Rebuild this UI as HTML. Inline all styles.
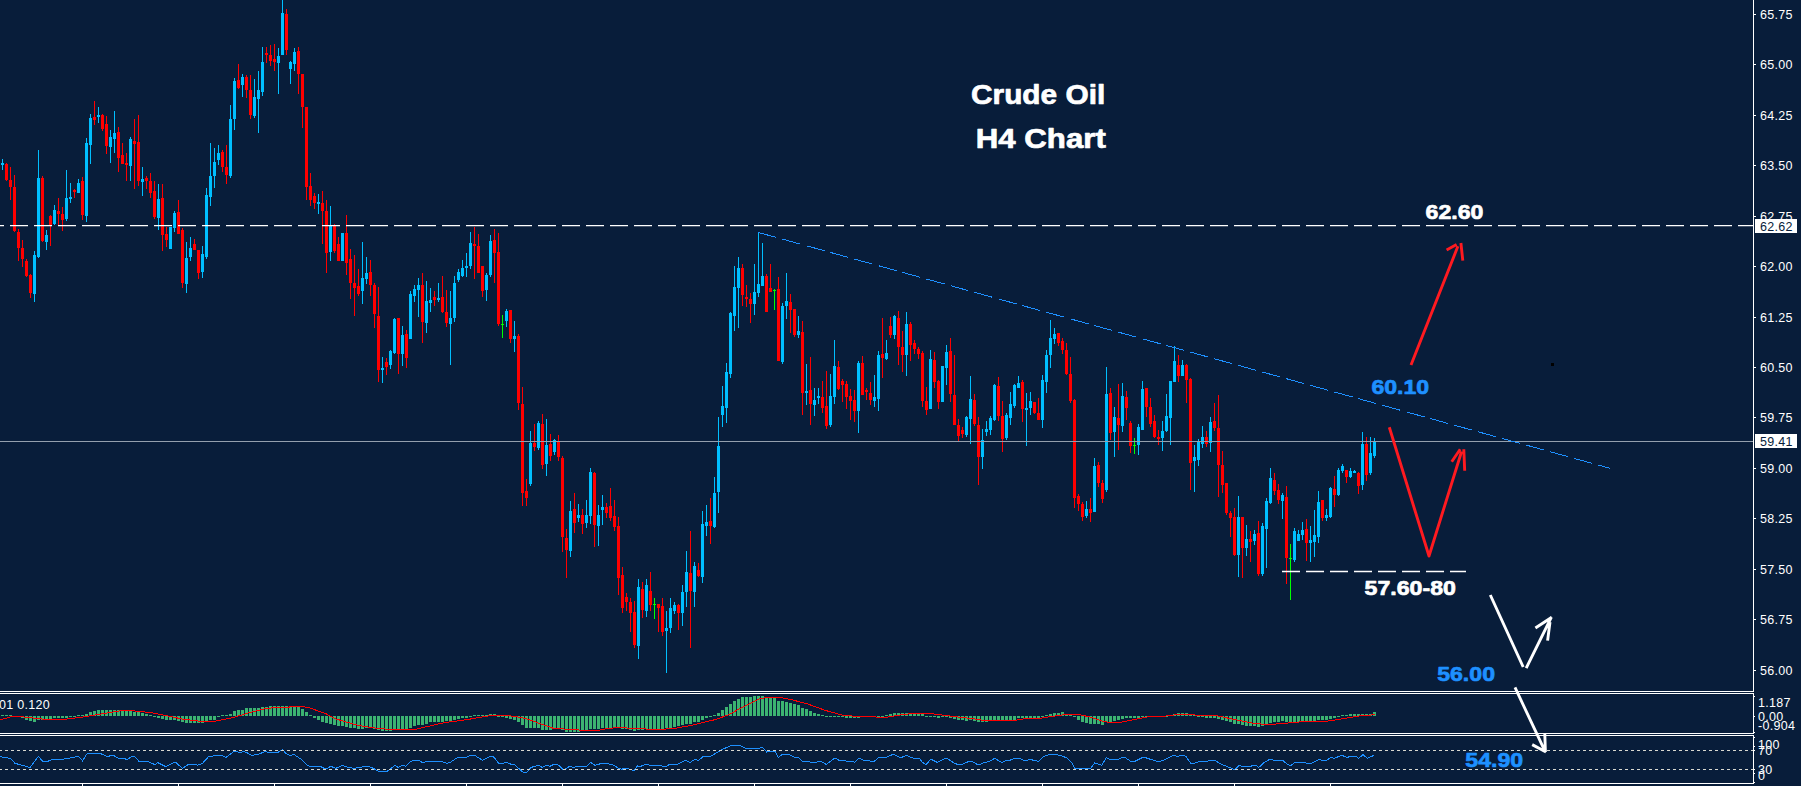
<!DOCTYPE html>
<html lang="en">
<head>
<meta charset="utf-8">
<title>Crude Oil H4 Chart</title>
<style>
html,body{margin:0;padding:0;background:#081d3a;}
body{width:1801px;height:786px;overflow:hidden;}
svg{display:block;}
.ax text{font-family:"Liberation Sans",sans-serif;font-size:12.5px;fill:#ffffff;letter-spacing:0.3px;}
.lab{font-family:"Liberation Sans",sans-serif;font-weight:bold;}
</style>
</head>
<body>
<svg width="1801" height="786" viewBox="0 0 1801 786" shape-rendering="crispEdges">
<rect x="0" y="0" width="1801" height="786" fill="#081d3a"/>
<!-- indicator panels -->
<g id="indicators">
<path fill="#3cb371" d="M1 715h3v1h-3zM5 715h3v1h-3zM9 715h3v1h-3zM13 716h3v1h-3zM17 716h3v1h-3zM21 716h3v2h-3zM25 716h3v4h-3zM29 716h3v5h-3zM33 716h3v6h-3zM37 716h3v4h-3zM41 716h3v4h-3zM45 716h3v3h-3zM49 716h3v3h-3zM53 716h3v2h-3zM57 716h3v2h-3zM61 716h3v2h-3zM65 716h3v2h-3zM69 716h3v1h-3zM73 716h3v1h-3zM77 715h3v1h-3zM81 715h3v1h-3zM85 714h3v2h-3zM89 712h3v4h-3zM93 711h3v5h-3zM97 710h3v6h-3zM101 710h3v6h-3zM105 710h3v6h-3zM109 710h3v6h-3zM113 710h3v6h-3zM117 710h3v6h-3zM121 710h3v6h-3zM125 711h3v5h-3zM129 711h3v5h-3zM133 712h3v4h-3zM137 712h3v4h-3zM141 713h3v3h-3zM145 714h3v2h-3zM149 715h3v1h-3zM153 716h3v1h-3zM157 716h3v2h-3zM161 716h3v3h-3zM165 716h3v4h-3zM169 716h3v4h-3zM173 716h3v4h-3zM177 716h3v5h-3zM181 716h3v6h-3zM185 716h3v7h-3zM189 716h3v7h-3zM193 716h3v7h-3zM197 716h3v7h-3zM201 716h3v7h-3zM205 716h3v6h-3zM209 716h3v4h-3zM213 716h3v4h-3zM217 716h3v1h-3zM221 715h3v1h-3zM225 715h3v1h-3zM229 714h3v2h-3zM233 711h3v5h-3zM237 710h3v6h-3zM241 710h3v6h-3zM245 708h3v8h-3zM249 708h3v8h-3zM253 708h3v8h-3zM257 708h3v8h-3zM261 707h3v9h-3zM265 707h3v9h-3zM269 706h3v10h-3zM273 706h3v10h-3zM277 706h3v10h-3zM281 706h3v10h-3zM285 706h3v10h-3zM289 706h3v10h-3zM293 707h3v9h-3zM297 707h3v9h-3zM301 709h3v7h-3zM305 712h3v4h-3zM309 715h3v1h-3zM313 716h3v2h-3zM317 716h3v4h-3zM321 716h3v6h-3zM325 716h3v7h-3zM329 716h3v8h-3zM333 716h3v9h-3zM337 716h3v10h-3zM341 716h3v10h-3zM345 716h3v11h-3zM349 716h3v12h-3zM353 716h3v12h-3zM357 716h3v13h-3zM361 716h3v13h-3zM365 716h3v12h-3zM369 716h3v12h-3zM373 716h3v13h-3zM377 716h3v14h-3zM381 716h3v15h-3zM385 716h3v15h-3zM389 716h3v15h-3zM393 716h3v14h-3zM397 716h3v14h-3zM401 716h3v14h-3zM405 716h3v14h-3zM409 716h3v12h-3zM413 716h3v10h-3zM417 716h3v9h-3zM421 716h3v9h-3zM425 716h3v8h-3zM429 716h3v6h-3zM433 716h3v6h-3zM437 716h3v6h-3zM441 716h3v6h-3zM445 716h3v5h-3zM449 716h3v5h-3zM453 716h3v4h-3zM457 716h3v3h-3zM461 716h3v2h-3zM465 716h3v2h-3zM469 716h3v1h-3zM473 715h3v1h-3zM477 715h3v1h-3zM481 715h3v1h-3zM485 715h3v1h-3zM489 714h3v2h-3zM493 714h3v2h-3zM497 716h3v1h-3zM501 716h3v1h-3zM505 716h3v2h-3zM509 716h3v3h-3zM513 716h3v4h-3zM517 716h3v6h-3zM521 716h3v9h-3zM525 716h3v12h-3zM529 716h3v12h-3zM533 716h3v12h-3zM537 716h3v12h-3zM541 716h3v14h-3zM545 716h3v14h-3zM549 716h3v14h-3zM553 716h3v13h-3zM557 716h3v13h-3zM561 716h3v14h-3zM565 716h3v16h-3zM569 716h3v16h-3zM573 716h3v16h-3zM577 716h3v16h-3zM581 716h3v15h-3zM585 716h3v14h-3zM589 716h3v13h-3zM593 716h3v13h-3zM597 716h3v13h-3zM601 716h3v12h-3zM605 716h3v12h-3zM609 716h3v12h-3zM613 716h3v12h-3zM617 716h3v12h-3zM621 716h3v13h-3zM625 716h3v13h-3zM629 716h3v14h-3zM633 716h3v15h-3zM637 716h3v14h-3zM641 716h3v14h-3zM645 716h3v13h-3zM649 716h3v13h-3zM653 716h3v13h-3zM657 716h3v13h-3zM661 716h3v13h-3zM665 716h3v12h-3zM669 716h3v12h-3zM673 716h3v11h-3zM677 716h3v10h-3zM681 716h3v9h-3zM685 716h3v8h-3zM689 716h3v8h-3zM693 716h3v6h-3zM697 716h3v6h-3zM701 716h3v4h-3zM705 716h3v2h-3zM709 716h3v1h-3zM713 715h3v1h-3zM717 713h3v3h-3zM721 710h3v6h-3zM725 707h3v9h-3zM729 704h3v12h-3zM733 701h3v15h-3zM737 699h3v17h-3zM741 697h3v19h-3zM745 697h3v19h-3zM749 697h3v19h-3zM753 696h3v20h-3zM757 696h3v20h-3zM761 696h3v20h-3zM765 698h3v18h-3zM769 698h3v18h-3zM773 698h3v18h-3zM777 701h3v15h-3zM781 701h3v15h-3zM785 702h3v14h-3zM789 703h3v13h-3zM793 704h3v12h-3zM797 705h3v11h-3zM801 708h3v8h-3zM805 709h3v7h-3zM809 711h3v5h-3zM813 713h3v3h-3zM817 714h3v2h-3zM821 715h3v1h-3zM825 716h3v1h-3zM829 716h3v1h-3zM833 716h3v1h-3zM837 716h3v1h-3zM841 716h3v1h-3zM845 716h3v2h-3zM849 716h3v2h-3zM853 716h3v2h-3zM857 716h3v2h-3zM861 716h3v1h-3zM865 716h3v1h-3zM869 716h3v1h-3zM873 716h3v1h-3zM877 716h3v1h-3zM881 716h3v1h-3zM885 715h3v1h-3zM889 714h3v2h-3zM893 713h3v3h-3zM897 713h3v3h-3zM901 713h3v3h-3zM905 713h3v3h-3zM909 713h3v3h-3zM913 713h3v3h-3zM917 714h3v2h-3zM921 714h3v2h-3zM925 716h3v1h-3zM929 716h3v1h-3zM933 716h3v1h-3zM937 716h3v2h-3zM941 716h3v1h-3zM945 716h3v1h-3zM949 716h3v2h-3zM953 716h3v3h-3zM957 716h3v4h-3zM961 716h3v4h-3zM965 716h3v5h-3zM969 716h3v4h-3zM973 716h3v5h-3zM977 716h3v6h-3zM981 716h3v6h-3zM985 716h3v6h-3zM989 716h3v4h-3zM993 716h3v4h-3zM997 716h3v4h-3zM1001 716h3v4h-3zM1005 716h3v4h-3zM1009 716h3v4h-3zM1013 716h3v4h-3zM1017 716h3v2h-3zM1021 716h3v2h-3zM1025 716h3v2h-3zM1029 716h3v2h-3zM1033 716h3v2h-3zM1037 716h3v2h-3zM1041 716h3v1h-3zM1045 715h3v1h-3zM1049 714h3v2h-3zM1053 713h3v3h-3zM1057 713h3v3h-3zM1061 712h3v4h-3zM1065 714h3v2h-3zM1069 715h3v1h-3zM1073 716h3v1h-3zM1077 716h3v4h-3zM1081 716h3v6h-3zM1085 716h3v7h-3zM1089 716h3v8h-3zM1093 716h3v8h-3zM1097 716h3v8h-3zM1101 716h3v9h-3zM1105 716h3v6h-3zM1109 716h3v6h-3zM1113 716h3v5h-3zM1117 716h3v4h-3zM1121 716h3v3h-3zM1125 716h3v2h-3zM1129 716h3v2h-3zM1133 716h3v2h-3zM1137 716h3v2h-3zM1141 716h3v1h-3zM1145 716h3v1h-3zM1149 716h3v1h-3zM1153 716h3v1h-3zM1157 716h3v1h-3zM1161 716h3v1h-3zM1165 716h3v1h-3zM1169 715h3v1h-3zM1173 714h3v2h-3zM1177 713h3v3h-3zM1181 713h3v3h-3zM1185 713h3v3h-3zM1189 715h3v1h-3zM1193 715h3v1h-3zM1197 716h3v1h-3zM1201 716h3v1h-3zM1205 716h3v2h-3zM1209 716h3v2h-3zM1213 716h3v2h-3zM1217 716h3v3h-3zM1221 716h3v4h-3zM1225 716h3v5h-3zM1229 716h3v6h-3zM1233 716h3v8h-3zM1237 716h3v8h-3zM1241 716h3v9h-3zM1245 716h3v10h-3zM1249 716h3v10h-3zM1253 716h3v10h-3zM1257 716h3v11h-3zM1261 716h3v10h-3zM1265 716h3v8h-3zM1269 716h3v7h-3zM1273 716h3v6h-3zM1277 716h3v6h-3zM1281 716h3v5h-3zM1285 716h3v6h-3zM1289 716h3v6h-3zM1293 716h3v6h-3zM1297 716h3v6h-3zM1301 716h3v5h-3zM1305 716h3v5h-3zM1309 716h3v5h-3zM1313 716h3v5h-3zM1317 716h3v4h-3zM1321 716h3v4h-3zM1325 716h3v4h-3zM1329 716h3v3h-3zM1333 716h3v2h-3zM1337 716h3v1h-3zM1341 715h3v1h-3zM1345 715h3v1h-3zM1349 714h3v2h-3zM1353 714h3v2h-3zM1357 714h3v2h-3zM1361 714h3v2h-3zM1365 714h3v2h-3zM1369 714h3v2h-3zM1373 712h3v4h-3z"/>
<polyline fill="none" stroke="#ff0000" stroke-width="1" points="0.0,720.0 10.0,717.0 16.7,716.3 33.3,718.0 46.7,719.5 63.3,719.5 83.3,717.0 100.0,714.2 120.0,710.8 133.3,710.8 150.0,712.5 166.7,715.8 183.3,719.2 200.0,721.3 215.0,721.3 233.3,717.5 250.0,712.5 266.7,708.3 283.3,707.2 299.8,706.7 300.0,706.3 308.3,707.5 325.0,713.3 336.7,719.2 358.3,725.5 375.0,728.0 391.7,729.7 415.0,729.5 426.7,726.7 445.0,722.5 466.7,719.7 483.3,716.7 495.0,715.0 506.7,715.5 516.7,716.7 528.3,719.2 538.3,723.0 553.3,728.3 566.7,729.2 583.3,730.3 599.8,730.3 600.0,729.7 616.7,727.5 633.3,728.3 650.0,729.2 663.3,729.2 675.0,728.3 693.3,725.0 716.7,719.2 730.0,714.2 741.7,707.5 758.3,699.2 766.7,697.5 780.0,697.5 791.7,699.7 808.3,704.2 825.0,710.3 841.7,715.0 858.3,716.7 886.7,717.2 899.8,715.0 900.0,715.0 913.3,713.3 928.3,713.3 941.7,715.0 955.0,716.7 970.0,718.3 986.7,720.8 1015.0,720.3 1025.0,718.7 1040.0,718.3 1050.0,716.7 1061.7,715.0 1080.0,714.7 1091.7,717.5 1103.3,721.3 1110.0,722.5 1120.0,722.5 1133.3,719.7 1146.7,717.0 1160.0,716.7 1176.7,714.7 1190.0,714.7 1199.8,715.3 1200.0,715.0 1216.7,715.8 1233.3,719.2 1253.3,723.3 1266.7,724.5 1280.0,723.8 1293.3,722.5 1306.7,721.3 1326.7,721.2 1343.3,718.7 1360.0,715.8 1375.0,714.7"/>
<polyline fill="none" stroke="#1e90ff" stroke-width="1" points="0.0,756.7 10.0,758.3 15.0,763.3 30.0,767.5 38.3,756.3 43.0,761.7 46.7,761.7 53.3,759.2 63.3,759.2 73.3,757.5 78.3,756.3 82.5,760.8 86.7,754.2 90.0,753.3 100.0,753.3 107.5,756.7 110.0,755.8 114.2,755.8 119.2,758.7 125.0,758.7 126.7,759.7 131.7,756.7 135.0,756.7 139.2,761.7 148.3,761.7 155.0,764.7 157.5,762.5 165.8,766.7 174.2,762.5 175.8,762.5 182.5,768.3 188.3,764.5 194.2,764.2 197.5,765.3 202.5,763.3 208.3,757.0 215.0,755.5 221.7,755.5 225.8,757.5 234.2,751.3 240.0,752.5 243.3,751.7 246.7,752.5 251.7,755.5 258.3,754.2 265.0,751.7 270.0,752.5 278.3,752.2 282.5,749.5 285.8,753.3 290.0,755.3 294.2,754.7 299.8,758.3 300.0,758.0 306.7,765.0 310.0,766.3 320.0,766.3 325.8,769.2 330.8,766.3 335.8,768.3 342.5,765.3 348.3,767.5 354.2,768.3 366.7,766.3 371.7,767.5 379.2,771.7 386.7,771.7 395.0,765.3 398.3,767.5 402.5,765.3 405.8,766.3 410.0,761.7 413.3,760.3 419.2,760.3 422.8,763.0 426.2,761.3 440.8,761.3 446.7,763.3 450.0,762.5 457.5,757.5 466.7,757.2 470.0,755.5 475.0,755.5 482.5,760.3 490.8,756.2 494.2,757.2 498.3,763.0 502.5,763.3 506.7,762.2 510.8,764.2 514.2,764.5 523.3,772.5 526.7,772.5 530.8,767.5 538.3,765.3 542.5,767.5 545.8,765.3 550.0,766.3 554.2,764.2 558.3,765.0 563.3,769.7 570.0,766.3 573.3,767.5 577.5,766.3 586.7,766.3 590.8,762.5 595.0,765.3 599.8,764.2 600.0,763.3 611.7,764.2 619.2,768.7 621.7,769.2 626.7,768.0 634.2,770.8 637.5,765.8 640.0,766.7 645.8,764.2 650.0,765.3 660.8,765.3 663.3,766.7 665.8,766.7 670.0,764.2 677.5,764.2 685.8,760.3 690.0,762.5 695.0,759.2 698.3,760.8 703.3,756.3 710.8,756.3 721.7,749.7 732.5,745.0 739.2,745.0 745.8,748.3 759.2,748.3 762.5,747.2 766.7,752.0 775.0,751.2 778.3,757.5 782.5,754.2 788.3,754.2 795.0,757.5 798.3,757.5 802.5,761.3 808.3,761.3 810.8,762.5 815.8,762.5 818.3,761.3 820.8,761.3 826.3,764.5 834.7,758.0 839.2,760.3 845.0,760.3 846.7,761.3 853.3,761.3 854.2,762.5 859.2,758.0 863.3,760.3 868.3,760.3 870.8,761.3 874.2,761.3 879.2,757.2 886.7,757.2 893.3,754.2 899.8,757.5 900.0,758.0 906.7,755.3 912.5,758.0 919.2,758.3 922.5,762.5 926.2,764.5 930.8,759.2 937.5,762.5 945.0,758.3 947.5,758.7 953.3,762.5 957.5,764.5 961.7,764.5 968.3,761.7 972.5,761.7 978.3,765.0 983.3,763.0 986.7,762.2 990.8,760.8 994.7,758.3 1001.7,762.5 1006.7,760.3 1010.0,760.3 1014.2,758.3 1019.2,758.3 1023.3,760.3 1027.5,760.3 1030.0,759.2 1033.3,760.3 1035.8,760.3 1038.3,761.7 1043.3,756.7 1049.2,754.5 1055.8,754.5 1062.5,756.2 1067.5,758.3 1071.7,762.5 1074.7,768.0 1090.8,768.0 1094.7,763.0 1098.3,764.2 1101.7,765.3 1106.3,757.5 1110.8,760.0 1118.3,759.2 1122.5,757.2 1125.0,757.5 1130.8,761.3 1135.0,761.3 1142.5,757.5 1145.0,757.5 1150.0,759.2 1158.3,761.7 1164.2,760.0 1173.3,755.3 1177.5,756.3 1182.5,755.3 1185.8,756.3 1190.8,763.3 1194.2,763.3 1199.8,761.3 1200.0,761.7 1207.5,761.3 1210.0,760.3 1215.0,760.3 1219.2,763.3 1235.0,769.7 1239.2,765.3 1241.7,766.3 1250.8,766.3 1253.3,765.3 1255.8,765.3 1258.7,767.5 1264.2,762.5 1270.0,759.2 1274.2,760.3 1282.5,760.3 1287.5,764.5 1290.5,765.8 1295.0,762.5 1304.2,762.2 1306.7,763.3 1311.7,763.3 1319.2,759.2 1321.7,760.3 1326.7,760.3 1330.8,757.5 1334.2,758.3 1341.7,755.3 1347.5,757.5 1350.0,756.3 1355.8,756.3 1358.8,758.3 1363.0,754.5 1367.2,758.3 1374.2,755.3"/>
</g>
<!-- RSI levels -->
<path stroke="#d8d8d0" stroke-width="1" stroke-dasharray="3 3" stroke-dashoffset="1" fill="none" shape-rendering="auto" d="M0 750.5H1753M0 769.5H1753"/>
<!-- panel borders -->
<path fill="#ffffff" d="M0 691h1753v1h-1753zM0 693h1753v1h-1753zM0 733h1753v1h-1753zM0 735h1753v1h-1753zM0 783h1754v1h-1754zM1753 0h1v692h-1zM1753 693h1v41h-1zM1753 735h1v49h-1zM1754 14h2v1h-2zM1754 64h2v1h-2zM1754 115h2v1h-2zM1754 165h2v1h-2zM1754 216h2v1h-2zM1754 266h2v1h-2zM1754 317h2v1h-2zM1754 367h2v1h-2zM1754 417h2v1h-2zM1754 468h2v1h-2zM1754 518h2v1h-2zM1754 569h2v1h-2zM1754 619h2v1h-2zM1754 670h2v1h-2zM1754 696h1v1h-1zM1754 716h1v1h-1zM1754 732h1v1h-1zM1754 737h1v1h-1zM1754 746h1v1h-1zM1754 750h1v1h-1zM1754 769h1v1h-1zM1754 773h1v1h-1zM1754 782h1v1h-1zM82 784h1v2h-1zM178 784h1v2h-1zM274 784h1v2h-1zM370 784h1v2h-1zM466 784h1v2h-1zM562 784h1v2h-1zM658 784h1v2h-1zM754 784h1v2h-1zM850 784h1v2h-1zM946 784h1v2h-1zM1042 784h1v2h-1zM1138 784h1v2h-1zM1234 784h1v2h-1zM1330 784h1v2h-1z"/>
<!-- candles -->
<g id="candles">
<path fill="#ff0000" d="M6 163h1v18h-1zM10 167h1v33h-1zM14 175h1v57h-1zM18 229h1v32h-1zM22 240h1v27h-1zM26 259h1v18h-1zM30 274h1v24h-1zM42 176h1v66h-1zM50 215h1v31h-1zM58 198h1v27h-1zM62 207h1v24h-1zM74 189h1v9h-1zM82 177h1v43h-1zM94 101h1v24h-1zM102 114h1v17h-1zM106 116h1v38h-1zM118 127h1v45h-1zM122 143h1v21h-1zM126 153h1v28h-1zM134 119h1v70h-1zM138 115h1v71h-1zM146 176h1v13h-1zM150 173h1v25h-1zM154 181h1v38h-1zM162 184h1v67h-1zM166 227h1v20h-1zM178 200h1v34h-1zM182 228h1v60h-1zM194 239h1v11h-1zM198 250h1v29h-1zM222 150h1v22h-1zM226 145h1v39h-1zM238 64h1v25h-1zM246 75h1v23h-1zM250 75h1v44h-1zM266 47h1v16h-1zM270 45h1v21h-1zM274 44h1v27h-1zM286 9h1v46h-1zM298 47h1v47h-1zM302 74h1v54h-1zM306 107h1v93h-1zM310 173h1v33h-1zM314 193h1v16h-1zM322 191h1v53h-1zM326 200h1v73h-1zM334 224h1v29h-1zM338 237h1v24h-1zM346 215h1v60h-1zM350 249h1v50h-1zM354 255h1v61h-1zM358 269h1v27h-1zM370 260h1v36h-1zM374 283h1v45h-1zM378 287h1v95h-1zM386 358h1v17h-1zM398 318h1v56h-1zM406 330h1v38h-1zM422 273h1v70h-1zM434 291h1v15h-1zM442 276h1v37h-1zM446 290h1v37h-1zM474 227h1v52h-1zM478 234h1v39h-1zM482 266h1v31h-1zM494 229h1v54h-1zM498 233h1v93h-1zM510 310h1v33h-1zM518 334h1v76h-1zM522 387h1v119h-1zM526 479h1v27h-1zM534 424h1v27h-1zM542 414h1v55h-1zM550 434h1v27h-1zM558 435h1v26h-1zM562 456h1v96h-1zM566 529h1v49h-1zM574 493h1v40h-1zM582 509h1v25h-1zM594 472h1v75h-1zM606 503h1v15h-1zM610 488h1v33h-1zM614 500h1v31h-1zM618 517h1v78h-1zM622 567h1v46h-1zM626 593h1v18h-1zM630 598h1v34h-1zM634 601h1v47h-1zM642 582h1v36h-1zM650 572h1v39h-1zM658 604h1v28h-1zM662 598h1v38h-1zM678 604h1v26h-1zM690 531h1v117h-1zM698 563h1v14h-1zM710 498h1v46h-1zM742 264h1v42h-1zM746 285h1v22h-1zM750 293h1v30h-1zM766 274h1v38h-1zM770 264h1v28h-1zM778 277h1v84h-1zM790 294h1v39h-1zM794 309h1v28h-1zM802 321h1v94h-1zM810 357h1v68h-1zM822 381h1v32h-1zM826 371h1v58h-1zM838 361h1v29h-1zM842 379h1v23h-1zM846 381h1v28h-1zM850 389h1v31h-1zM854 390h1v32h-1zM862 356h1v39h-1zM866 388h1v12h-1zM870 382h1v23h-1zM882 318h1v60h-1zM890 317h1v21h-1zM898 311h1v54h-1zM902 331h1v41h-1zM910 322h1v39h-1zM914 340h1v14h-1zM918 347h1v12h-1zM922 351h1v56h-1zM926 387h1v28h-1zM934 352h1v36h-1zM938 380h1v29h-1zM950 338h1v64h-1zM954 355h1v70h-1zM958 419h1v22h-1zM962 427h1v11h-1zM974 394h1v32h-1zM978 417h1v68h-1zM998 377h1v44h-1zM1002 401h1v51h-1zM1022 380h1v42h-1zM1034 402h1v12h-1zM1038 398h1v22h-1zM1058 333h1v13h-1zM1062 338h1v16h-1zM1066 343h1v32h-1zM1070 357h1v46h-1zM1074 399h1v109h-1zM1078 494h1v17h-1zM1082 502h1v19h-1zM1090 498h1v24h-1zM1098 462h1v25h-1zM1102 480h1v23h-1zM1110 388h1v52h-1zM1118 384h1v66h-1zM1126 391h1v29h-1zM1130 421h1v32h-1zM1146 388h1v29h-1zM1150 398h1v29h-1zM1154 415h1v23h-1zM1158 430h1v15h-1zM1178 355h1v27h-1zM1186 364h1v39h-1zM1190 378h1v112h-1zM1206 431h1v16h-1zM1214 403h1v28h-1zM1218 395h1v102h-1zM1222 451h1v42h-1zM1226 483h1v32h-1zM1230 511h1v26h-1zM1234 508h1v48h-1zM1242 517h1v61h-1zM1250 531h1v31h-1zM1258 521h1v55h-1zM1274 473h1v22h-1zM1278 484h1v20h-1zM1286 486h1v98h-1zM1306 519h1v42h-1zM1322 500h1v21h-1zM1334 476h1v31h-1zM1346 470h1v13h-1zM1358 472h1v22h-1zM1366 437h1v44h-1zM5 164h3v16h-3zM9 180h3v7h-3zM13 187h3v44h-3zM17 232h3v16h-3zM21 248h3v11h-3zM25 261h3v15h-3zM29 275h3v18h-3zM41 178h3v63h-3zM49 216h3v9h-3zM57 211h3v3h-3zM61 214h3v6h-3zM73 190h3v2h-3zM81 181h3v34h-3zM93 117h3v3h-3zM101 115h3v14h-3zM105 124h3v22h-3zM117 132h3v26h-3zM121 155h3v9h-3zM125 163h3v2h-3zM133 141h3v3h-3zM137 142h3v39h-3zM145 178h3v3h-3zM149 181h3v12h-3zM153 191h3v26h-3zM161 198h3v37h-3zM165 234h3v6h-3zM177 212h3v22h-3zM181 230h3v53h-3zM193 244h3v6h-3zM197 250h3v23h-3zM221 152h3v15h-3zM225 167h3v8h-3zM237 80h3v8h-3zM245 77h3v13h-3zM249 90h3v25h-3zM265 53h3v2h-3zM269 55h3v6h-3zM273 59h3v3h-3zM285 14h3v36h-3zM297 51h3v23h-3zM301 74h3v33h-3zM305 107h3v80h-3zM309 186h3v14h-3zM313 196h3v7h-3zM321 203h3v8h-3zM325 211h3v42h-3zM333 226h3v25h-3zM337 244h3v17h-3zM345 233h3v30h-3zM349 259h3v24h-3zM353 283h3v5h-3zM357 286h3v8h-3zM369 272h3v13h-3zM373 285h3v29h-3zM377 316h3v54h-3zM385 362h3v5h-3zM397 318h3v36h-3zM405 334h3v24h-3zM421 285h3v37h-3zM433 297h3v3h-3zM441 297h3v15h-3zM445 312h3v11h-3zM473 244h3v2h-3zM477 246h3v27h-3zM481 266h3v25h-3zM493 240h3v13h-3zM497 252h3v72h-3zM509 310h3v29h-3zM517 336h3v67h-3zM521 404h3v89h-3zM525 491h3v7h-3zM533 443h3v4h-3zM541 424h3v41h-3zM549 444h3v12h-3zM557 441h3v16h-3zM561 458h3v79h-3zM565 538h3v12h-3zM573 509h3v14h-3zM581 515h3v9h-3zM593 473h3v52h-3zM605 507h3v6h-3zM609 506h3v12h-3zM613 516h3v11h-3zM617 526h3v52h-3zM621 575h3v33h-3zM625 597h3v5h-3zM629 602h3v11h-3zM633 612h3v33h-3zM641 589h3v21h-3zM649 591h3v14h-3zM657 604h3v4h-3zM661 606h3v26h-3zM677 605h3v8h-3zM689 573h3v18h-3zM697 570h3v6h-3zM709 521h3v5h-3zM741 268h3v27h-3zM745 297h3v2h-3zM749 299h3v5h-3zM765 276h3v36h-3zM769 288h3v4h-3zM777 289h3v72h-3zM789 302h3v8h-3zM793 309h3v26h-3zM801 332h3v61h-3zM809 390h3v14h-3zM821 397h3v11h-3zM825 406h3v20h-3zM837 367h3v22h-3zM841 381h3v4h-3zM845 384h3v13h-3zM849 396h3v5h-3zM853 400h3v11h-3zM861 363h3v32h-3zM865 390h3v2h-3zM869 393h3v7h-3zM881 354h3v4h-3zM889 326h3v9h-3zM897 318h3v29h-3zM901 347h3v8h-3zM909 324h3v21h-3zM913 343h3v6h-3zM917 349h3v5h-3zM921 353h3v48h-3zM925 401h3v9h-3zM933 360h3v22h-3zM937 381h3v21h-3zM949 351h3v43h-3zM953 395h3v30h-3zM957 425h3v11h-3zM961 430h3v4h-3zM973 400h3v24h-3zM977 425h3v32h-3zM997 386h3v30h-3zM1001 416h3v23h-3zM1021 382h3v27h-3zM1033 402h3v11h-3zM1037 413h3v7h-3zM1057 333h3v10h-3zM1061 341h3v9h-3zM1065 350h3v24h-3zM1069 374h3v27h-3zM1073 400h3v98h-3zM1077 496h3v8h-3zM1081 504h3v13h-3zM1089 509h3v4h-3zM1097 465h3v18h-3zM1101 483h3v16h-3zM1109 393h3v40h-3zM1117 418h3v7h-3zM1125 397h3v11h-3zM1129 423h3v23h-3zM1145 388h3v19h-3zM1149 407h3v17h-3zM1153 421h3v16h-3zM1157 437h3v2h-3zM1177 365h3v11h-3zM1185 365h3v15h-3zM1189 379h3v84h-3zM1205 437h3v7h-3zM1213 421h3v7h-3zM1217 428h3v37h-3zM1221 465h3v20h-3zM1225 483h3v30h-3zM1229 513h3v5h-3zM1233 517h3v38h-3zM1241 517h3v31h-3zM1249 539h3v3h-3zM1257 533h3v41h-3zM1273 480h3v11h-3zM1277 490h3v10h-3zM1285 497h3v61h-3zM1305 529h3v14h-3zM1321 500h3v18h-3zM1333 489h3v6h-3zM1345 470h3v7h-3zM1357 473h3v13h-3zM1365 444h3v31h-3z"/>
<path fill="#00bfff" d="M2 159h1v11h-1zM34 251h1v51h-1zM38 150h1v108h-1zM46 230h1v20h-1zM54 205h1v20h-1zM66 170h1v51h-1zM70 183h1v20h-1zM78 179h1v14h-1zM86 138h1v84h-1zM90 114h1v50h-1zM98 107h1v16h-1zM110 130h1v33h-1zM114 111h1v42h-1zM130 137h1v44h-1zM142 167h1v29h-1zM158 184h1v46h-1zM170 227h1v22h-1zM174 211h1v21h-1zM186 242h1v51h-1zM190 237h1v24h-1zM202 246h1v32h-1zM206 188h1v71h-1zM210 143h1v63h-1zM214 148h1v40h-1zM218 145h1v20h-1zM230 105h1v73h-1zM234 78h1v52h-1zM242 74h1v23h-1zM254 79h1v39h-1zM258 71h1v62h-1zM262 47h1v49h-1zM278 48h1v46h-1zM282 0h1v55h-1zM290 61h1v23h-1zM294 48h1v23h-1zM318 194h1v20h-1zM330 206h1v55h-1zM342 233h1v28h-1zM362 242h1v62h-1zM366 257h1v27h-1zM382 357h1v26h-1zM390 350h1v19h-1zM394 318h1v36h-1zM402 326h1v40h-1zM410 291h1v48h-1zM414 285h1v17h-1zM418 278h1v39h-1zM426 281h1v52h-1zM430 288h1v24h-1zM438 283h1v19h-1zM450 291h1v74h-1zM454 276h1v46h-1zM458 269h1v13h-1zM462 260h1v17h-1zM466 253h1v24h-1zM470 232h1v37h-1zM486 273h1v28h-1zM490 235h1v42h-1zM506 309h1v18h-1zM514 321h1v31h-1zM530 431h1v55h-1zM538 421h1v29h-1zM546 419h1v57h-1zM554 439h1v16h-1zM570 501h1v56h-1zM578 504h1v18h-1zM586 500h1v28h-1zM590 468h1v56h-1zM598 505h1v41h-1zM602 495h1v30h-1zM638 579h1v80h-1zM646 579h1v38h-1zM666 611h1v62h-1zM670 598h1v35h-1zM674 602h1v12h-1zM682 585h1v41h-1zM686 551h1v56h-1zM694 562h1v45h-1zM702 511h1v72h-1zM706 505h1v31h-1zM714 477h1v51h-1zM718 417h1v96h-1zM722 386h1v41h-1zM726 363h1v60h-1zM730 312h1v66h-1zM734 266h1v65h-1zM738 257h1v71h-1zM754 264h1v51h-1zM758 232h1v65h-1zM762 243h1v43h-1zM782 303h1v61h-1zM786 273h1v46h-1zM798 316h1v22h-1zM806 364h1v41h-1zM814 388h1v28h-1zM818 388h1v16h-1zM830 374h1v53h-1zM834 340h1v64h-1zM858 361h1v72h-1zM874 375h1v32h-1zM878 351h1v60h-1zM886 340h1v20h-1zM894 315h1v24h-1zM906 312h1v64h-1zM930 350h1v59h-1zM942 366h1v36h-1zM946 345h1v40h-1zM966 416h1v21h-1zM970 376h1v68h-1zM982 429h1v40h-1zM986 421h1v15h-1zM990 416h1v19h-1zM994 384h1v37h-1zM1006 413h1v27h-1zM1010 392h1v33h-1zM1014 384h1v24h-1zM1018 376h1v12h-1zM1026 393h1v53h-1zM1030 392h1v23h-1zM1042 375h1v53h-1zM1046 350h1v43h-1zM1050 320h1v48h-1zM1054 328h1v16h-1zM1086 501h1v17h-1zM1094 458h1v54h-1zM1106 367h1v125h-1zM1114 407h1v50h-1zM1122 383h1v49h-1zM1138 424h1v31h-1zM1142 381h1v49h-1zM1162 421h1v30h-1zM1166 394h1v38h-1zM1170 381h1v64h-1zM1174 346h1v36h-1zM1182 360h1v16h-1zM1194 445h1v47h-1zM1198 439h1v27h-1zM1202 426h1v22h-1zM1210 417h1v35h-1zM1238 496h1v81h-1zM1246 525h1v31h-1zM1254 530h1v15h-1zM1262 523h1v53h-1zM1266 498h1v70h-1zM1270 468h1v36h-1zM1282 493h1v26h-1zM1294 528h1v34h-1zM1298 530h1v11h-1zM1302 522h1v18h-1zM1310 526h1v36h-1zM1314 510h1v47h-1zM1318 491h1v52h-1zM1326 509h1v12h-1zM1330 487h1v31h-1zM1338 468h1v28h-1zM1342 464h1v9h-1zM1350 468h1v10h-1zM1354 470h1v3h-1zM1362 432h1v58h-1zM1370 437h1v38h-1zM1374 438h1v20h-1zM1 163h3v2h-3zM33 255h3v39h-3zM37 178h3v79h-3zM45 235h3v7h-3zM53 210h3v14h-3zM65 198h3v21h-3zM69 197h3v2h-3zM77 183h3v10h-3zM85 143h3v73h-3zM89 118h3v27h-3zM97 115h3v2h-3zM109 137h3v10h-3zM113 133h3v6h-3zM129 139h3v27h-3zM141 179h3v3h-3zM157 199h3v19h-3zM169 227h3v22h-3zM173 213h3v15h-3zM185 258h3v26h-3zM189 248h3v9h-3zM201 254h3v18h-3zM205 195h3v62h-3zM209 176h3v21h-3zM213 162h3v14h-3zM217 153h3v7h-3zM229 119h3v57h-3zM233 81h3v38h-3zM241 77h3v8h-3zM253 97h3v19h-3zM257 90h3v9h-3zM261 62h3v30h-3zM277 56h3v7h-3zM281 13h3v42h-3zM289 62h3v7h-3zM293 52h3v12h-3zM317 202h3v2h-3zM329 226h3v26h-3zM341 233h3v28h-3zM361 278h3v13h-3zM365 273h3v6h-3zM381 368h3v2h-3zM389 351h3v14h-3zM393 319h3v34h-3zM401 335h3v19h-3zM409 294h3v45h-3zM413 289h3v7h-3zM417 285h3v5h-3zM425 301h3v22h-3zM429 300h3v3h-3zM437 298h3v2h-3zM449 318h3v6h-3zM453 283h3v35h-3zM457 272h3v8h-3zM461 268h3v8h-3zM465 266h3v2h-3zM469 243h3v23h-3zM485 275h3v15h-3zM489 241h3v34h-3zM505 311h3v10h-3zM513 336h3v3h-3zM529 443h3v41h-3zM537 423h3v25h-3zM545 445h3v19h-3zM553 440h3v12h-3zM569 511h3v40h-3zM577 515h3v3h-3zM585 515h3v8h-3zM589 472h3v44h-3zM597 515h3v11h-3zM601 507h3v3h-3zM637 587h3v59h-3zM645 585h3v26h-3zM665 628h3v3h-3zM669 608h3v20h-3zM673 605h3v6h-3zM681 592h3v21h-3zM685 572h3v20h-3zM693 566h3v26h-3zM701 524h3v53h-3zM705 522h3v4h-3zM713 493h3v34h-3zM717 446h3v46h-3zM721 406h3v9h-3zM725 372h3v36h-3zM729 313h3v61h-3zM733 287h3v29h-3zM737 268h3v20h-3zM753 292h3v12h-3zM757 284h3v9h-3zM761 276h3v10h-3zM781 306h3v56h-3zM785 301h3v5h-3zM797 331h3v4h-3zM805 391h3v2h-3zM813 400h3v5h-3zM817 396h3v2h-3zM829 396h3v29h-3zM833 366h3v31h-3zM857 363h3v48h-3zM873 397h3v4h-3zM877 355h3v44h-3zM885 353h3v6h-3zM893 316h3v19h-3zM905 324h3v31h-3zM929 359h3v50h-3zM941 366h3v36h-3zM945 352h3v16h-3zM965 417h3v18h-3zM969 399h3v20h-3zM981 440h3v17h-3zM985 429h3v3h-3zM989 418h3v12h-3zM993 385h3v35h-3zM1005 415h3v23h-3zM1009 404h3v14h-3zM1013 385h3v21h-3zM1017 383h3v5h-3zM1025 408h3v2h-3zM1029 401h3v7h-3zM1041 380h3v40h-3zM1045 355h3v27h-3zM1049 338h3v17h-3zM1053 334h3v5h-3zM1085 509h3v7h-3zM1093 466h3v46h-3zM1105 394h3v96h-3zM1113 417h3v15h-3zM1121 396h3v30h-3zM1137 427h3v18h-3zM1141 389h3v41h-3zM1161 431h3v7h-3zM1165 416h3v15h-3zM1169 381h3v37h-3zM1173 361h3v21h-3zM1181 365h3v11h-3zM1193 457h3v4h-3zM1197 441h3v19h-3zM1201 437h3v7h-3zM1209 422h3v21h-3zM1237 517h3v38h-3zM1245 539h3v9h-3zM1253 534h3v7h-3zM1261 526h3v48h-3zM1265 501h3v28h-3zM1269 478h3v25h-3zM1281 495h3v6h-3zM1293 531h3v29h-3zM1297 534h3v7h-3zM1301 530h3v5h-3zM1309 540h3v3h-3zM1313 535h3v7h-3zM1317 502h3v35h-3zM1325 515h3v3h-3zM1329 488h3v29h-3zM1337 470h3v25h-3zM1341 466h3v5h-3zM1349 471h3v6h-3zM1353 471h3v2h-3zM1361 444h3v41h-3zM1369 453h3v20h-3zM1373 442h3v14h-3z"/>
<path fill="#00ff00" d="M502 315h1v23h-1zM654 598h1v21h-1zM774 289h1v21h-1zM1134 438h1v16h-1zM1290 544h1v56h-1zM501 324h3v1h-3zM653 604h3v1h-3zM773 290h3v1h-3zM1133 445h3v1h-3zM1289 558h3v1h-3z"/>
</g>
<!-- price line -->
<rect x="0" y="441" width="1753" height="1" fill="#94a0ae"/>
<!-- resistance dashed line -->
<path stroke="#ffffff" stroke-width="1.4" stroke-dasharray="18 6" stroke-dashoffset="14" fill="none" shape-rendering="auto" d="M0 225.6H1753"/>
<path stroke="#ffffff" stroke-width="1.4" stroke-dasharray="18 6" fill="none" shape-rendering="auto" d="M1282 571.5H1466"/>
<!-- trend line -->
<path stroke="#1e90ff" stroke-width="1" stroke-dasharray="18.67 6.23" fill="none" shape-rendering="crispEdges" d="M758.5 232.5L1610 468.3"/>
<!-- arrows -->
<g fill="none" stroke="#ff1a20" stroke-width="2.9" stroke-linecap="butt" stroke-linejoin="round" shape-rendering="auto">
<path d="M1411 365L1457.9 246.3M1456.6 244.4L1446.6 250M1460.9 243L1462.8 260.6"/>
<path d="M1389.3 427.3L1429 556L1461.6 451.5M1460.2 449.2L1451.7 461.8M1463.8 449.2L1464.7 470.7"/>
</g>
<g fill="none" stroke="#ffffff" stroke-width="2.9" stroke-linecap="butt" stroke-linejoin="round" shape-rendering="auto">
<path d="M1490.3 595L1523.2 667M1526.2 668.2L1551.4 617.2M1535.4 628L1551.8 617.2M1550 622L1547.6 640.6"/>
<path d="M1515 687.4L1545.2 751.6M1532.2 744.6L1546 752M1544.8 734L1545.4 752"/>
</g>
<rect x="1551" y="363" width="3" height="3" fill="#000000"/>
<!-- axis labels -->
<g class="ax">
<text x="1760" y="19">65.75</text>
<text x="1760" y="69">65.00</text>
<text x="1760" y="120">64.25</text>
<text x="1760" y="170">63.50</text>
<text x="1760" y="221">62.75</text>
<text x="1760" y="271">62.00</text>
<text x="1760" y="322">61.25</text>
<text x="1760" y="372">60.50</text>
<text x="1760" y="422">59.75</text>
<text x="1760" y="473">59.00</text>
<text x="1760" y="523">58.25</text>
<text x="1760" y="574">57.50</text>
<text x="1760" y="624">56.75</text>
<text x="1760" y="675">56.00</text>
<text x="1758" y="707.0">1.187</text>
<text x="1758" y="720.7">0.00</text>
<text x="1758" y="730.1">-0.904</text>
<text x="1758" y="748.8">100</text>
<text x="1758" y="755.1">70</text>
<text x="1758" y="773.6">30</text>
<text x="1758" y="780.3">0</text>
<text x="13.6" y="709" text-anchor="end">.01</text><text x="50" y="709" text-anchor="end">0.120</text>
<rect x="1755" y="219" width="42" height="14" fill="#ffffff"/>
<text x="1760" y="231" style="fill:#081d3a">62.62</text>
<rect x="1755" y="434" width="42" height="14" fill="#ffffff"/>
<text x="1760" y="446" style="fill:#081d3a">59.41</text>
</g>
<!-- annotations -->
<g class="lab" shape-rendering="auto" stroke-width="0.7" stroke-linejoin="round">
<text x="971" y="104" font-size="28.5" fill="#ffffff" stroke="#ffffff" textLength="134.2" lengthAdjust="spacingAndGlyphs">Crude Oil</text>
<text x="975.8" y="148" font-size="28.3" fill="#ffffff" stroke="#ffffff" textLength="130" lengthAdjust="spacingAndGlyphs">H4 Chart</text>
<text x="1425.6" y="219.1" font-size="21" fill="#ffffff" stroke="#ffffff" textLength="57.8" lengthAdjust="spacingAndGlyphs">62.60</text>
<text x="1371.4" y="394.1" font-size="21" fill="#1e90ff" stroke="#1e90ff" textLength="57.8" lengthAdjust="spacingAndGlyphs">60.10</text>
<text x="1364.6" y="595" font-size="21" fill="#ffffff" stroke="#ffffff" textLength="91.3" lengthAdjust="spacingAndGlyphs">57.60-80</text>
<text x="1437.2" y="681" font-size="21" fill="#1e90ff" stroke="#1e90ff" textLength="57.8" lengthAdjust="spacingAndGlyphs">56.00</text>
<text x="1465.3" y="766.9" font-size="21" fill="#1e90ff" stroke="#1e90ff" textLength="57.8" lengthAdjust="spacingAndGlyphs">54.90</text>
</g>
</svg>
</body>
</html>
